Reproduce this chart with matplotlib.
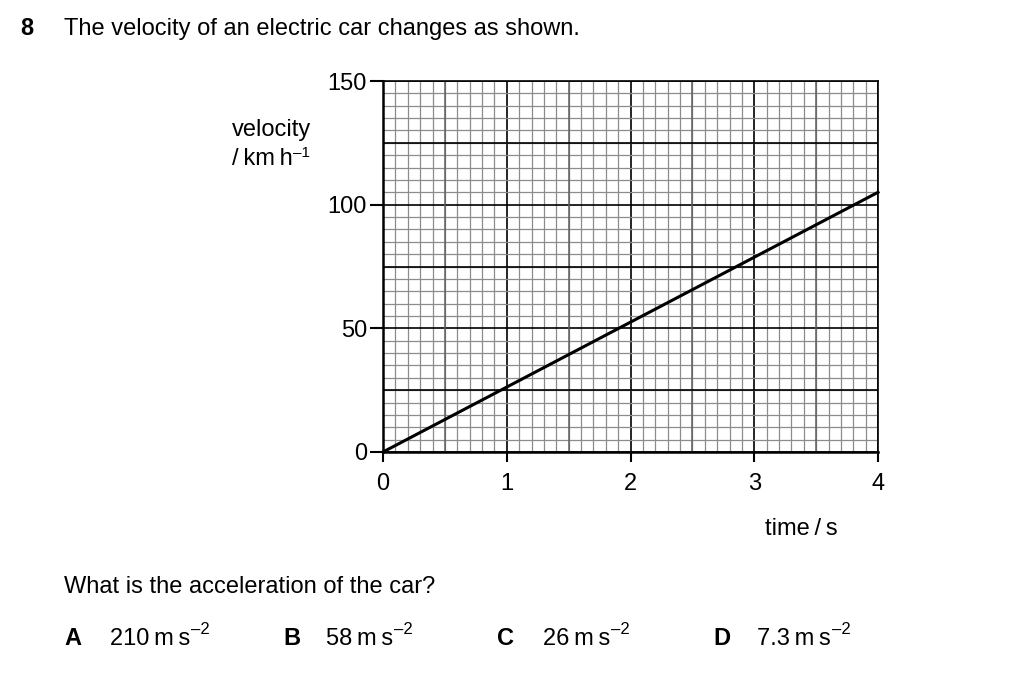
import matplotlib
matplotlib.use("Agg")
import matplotlib.pyplot as plt
from matplotlib.ticker import MultipleLocator
import numpy as np

plt.rcParams['font.family'] = ['Liberation Sans', 'DejaVu Sans']

time_s = [0, 4]
velocity = [0, 105]
x_ticks = [0, 1, 2, 3, 4]
y_ticks = [0, 50, 100, 150]
options = ['A', 'B', 'C', 'D']
answers = ['210', '58', '26', '7.3']

TS = '\u2009'
W, H = 1024, 686

fig = plt.figure(figsize=(10.24, 6.86), dpi=100)
ax = fig.add_axes([383/W, 1-452/H, 495/W, 371/H])
ax.set_xlim(0, 4)
ax.set_ylim(0, 150)

ax.xaxis.set_major_locator(MultipleLocator(1))
ax.xaxis.set_minor_locator(MultipleLocator(0.1))
ax.yaxis.set_major_locator(MultipleLocator(50))
ax.yaxis.set_minor_locator(MultipleLocator(5))

ax.grid(which='minor', color='#8c8c8c', linewidth=0.9)
ax.grid(which='major', color='black', linewidth=1.2)
for xv in np.arange(0.5, 4, 1):
    ax.axvline(xv, color='#606060', linewidth=1.1, zorder=0.9)
for yv in np.arange(25, 150, 50):
    ax.axhline(yv, color='black', linewidth=1.2, zorder=0.9)
ax.set_axisbelow(True)

ax.set_xticks(x_ticks)
ax.set_yticks(y_ticks)
ax.tick_params(which='minor', length=0)
ax.tick_params(axis='y', which='major', length=9.5, width=1.5, labelsize=17, pad=2)
ax.tick_params(axis='x', which='major', length=7, width=1.5, labelsize=17, pad=8)
for s in ax.spines.values():
    s.set_color('black')
    s.set_linewidth(1.2)
ax.spines['left'].set_linewidth(1.8)
ax.spines['bottom'].set_linewidth(1.8)

ax.plot(time_s, velocity, color='black', linewidth=2.2, zorder=3, clip_on=False)

fs = 17
fig.text(20/W, 1-35/H, '8', fontsize=fs, fontweight='bold', va='baseline', ha='left')
fig.text(64/W, 1-35/H, 'The velocity of an electric car changes as shown.', fontsize=fs, va='baseline', ha='left')
fig.text(311/W, 1-136/H, 'velocity', fontsize=17, va='baseline', ha='right')
fig.text(293/W, 1-165/H, '/' + TS + 'km' + TS + 'h', fontsize=17, va='baseline', ha='right')
fig.text(293/W, 1-157/H, '–1', fontsize=11, va='baseline', ha='left')
fig.text(838/W, 1-535/H, 'time' + TS + '/' + TS + 's', fontsize=17, va='baseline', ha='right')
fig.text(64/W, 1-593/H, 'What is the acceleration of the car?', fontsize=fs, va='baseline', ha='left')

letter_x = [64, 283, 497, 713]
value_x = [110, 326, 543, 757]
for lx, vx, o, a in zip(letter_x, value_x, options, answers):
    fig.text(lx/W, 1-645/H, o, fontsize=fs, fontweight='bold', va='baseline', ha='left')
    t = fig.text(vx/W, 1-645/H, a + TS + 'm' + TS + 's', fontsize=fs, va='baseline', ha='left')
    fig.canvas.draw()
    bb = t.get_window_extent()
    fig.text(bb.x1/W + 0.001, 1-634/H, '–2', fontsize=12, va='baseline', ha='left')

fig.savefig('out.png', dpi=100)
